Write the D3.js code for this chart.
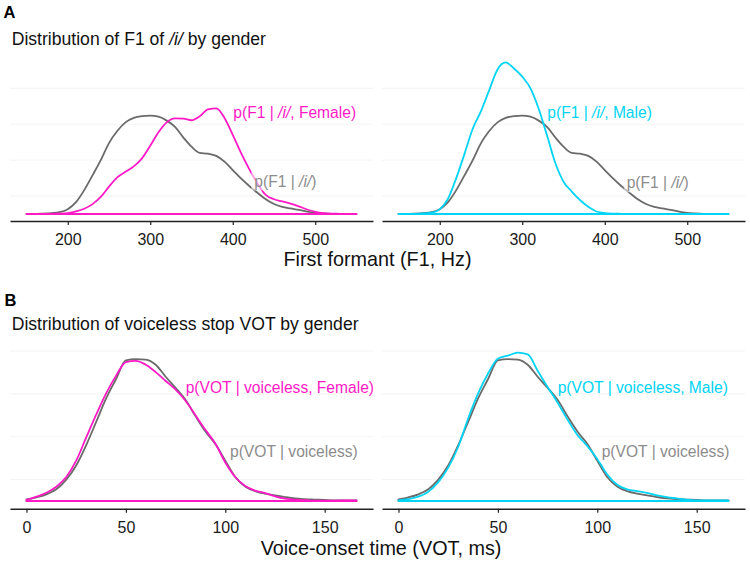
<!DOCTYPE html>
<html><head><meta charset="utf-8">
<script src="https://cdn.jsdelivr.net/npm/d3@7"></script>
<style>body{margin:0;background:#fff;} text{font-family:"Liberation Sans",Arial,sans-serif;}</style>
</head><body><svg id="chart" width="750" height="562"></svg>
<script>
// ---- Data (densities x1000) ----
const f1X = [150,160,170,180,190,200,210,220,230,240,250,260,270,280,290,300,310,320,330,340,350,360,370,380,390,400,410,420,430,440,450,460,470,480,490,500,510,520,530,540,550];
const f1Pooled = [0,0,0.02,0.05,0.10,0.27,0.66,1.33,2.15,3.0,3.95,4.62,5.1,5.35,5.45,5.48,5.42,5.2,4.85,4.27,3.75,3.4,3.36,3.24,2.92,2.45,1.98,1.56,1.18,0.82,0.56,0.40,0.31,0.23,0.13,0.06,0.03,0.01,0,0,0];
const f1Female = [0,0,0,0.01,0.02,0.05,0.14,0.29,0.55,0.95,1.52,2.04,2.35,2.65,3.1,3.8,4.55,5.1,5.32,5.31,5.22,5.44,5.83,5.88,5.35,4.41,3.4,2.5,1.7,1.06,0.82,0.7,0.58,0.43,0.25,0.12,0.05,0.02,0.01,0,0];
const f1Male = [0,0,0.01,0.03,0.07,0.26,0.85,2.0,3.35,4.75,5.73,6.9,8.05,8.44,8.1,7.65,7.0,5.85,4.38,2.85,1.8,1.25,0.78,0.4,0.14,0.05,0.02,0.01,0,0,0,0,0,0,0,0,0,0,0,0,0];

const votX = [0,5,10,15,20,25,30,35,40,45,50,55,60,65,70,75,80,85,90,95,100,105,110,115,120,125,130,135,140,145,150,155,160,165,166];
const votPooled = [0.19,0.43,0.78,1.36,2.5,4.15,6.5,9.2,11.94,14.2,16.4,16.55,16.5,15.9,14.5,13.2,11.8,9.9,8.1,6.65,4.7,2.8,1.7,1.15,0.85,0.65,0.46,0.3,0.22,0.17,0.12,0.08,0.08,0.08,0.08];
const votFemale = [0.12,0.5,0.97,1.67,2.8,4.7,7.4,10.05,12.52,14.6,16.2,16.35,15.9,15.04,14.0,13.0,11.7,10.0,8.3,6.7,4.5,2.8,1.75,1.22,0.92,0.55,0.28,0.15,0.1,0.05,0.04,0.05,0.07,0.08,0.08];
const votMale = [0.08,0.23,0.5,1.09,2.2,3.9,6.3,9.6,12.52,14.85,16.6,16.95,17.3,17.1,15.2,13.3,11.5,9.5,7.7,6.4,4.9,3.1,1.9,1.35,1.15,0.95,0.65,0.45,0.3,0.15,0.08,0.07,0.07,0.08,0.08];

const f1Ticks = [200,300,400,500];
const votTicks = [0,50,100,150];
const f1Grid = [1,3,5,7];
const votGrid = [2.5,7.5,12.5,17.5];

// ---- Drawing ----
const PINK = "#ff1ac6", CYAN = "#00d4f4", GREY = "#6a6a6a", GREYTXT = "#8c8c8c";
const svg = d3.select("#chart");
svg.append("rect").attr("width",750).attr("height",562).attr("fill","#fff");

function addLabel(g, x, y, parts, color, box) {
  const t = g.append("text").attr("x", x).attr("y", y).attr("font-size", 15.6).attr("fill", color);
  parts.forEach(p => t.append("tspan").attr("font-style", p[1] ? "italic" : null).text(p[0]));
  if (box) {
    const bb = t.node().getBBox();
    g.insert("rect", () => t.node())
      .attr("x", bb.x - 3).attr("y", bb.y - 1).attr("width", bb.width + 6).attr("height", bb.height + 2)
      .attr("fill", "#fff").attr("fill-opacity", 0.55);
  }
}

function panel(o) {
  const g = svg.append("g");
  const x = d3.scaleLinear().domain(o.xDomain).range(o.xRange);
  const y = d3.scaleLinear().domain(o.yDomain).range(o.yRange);
  g.selectAll(".grid").data(o.grid).enter().append("line")
    .attr("x1", o.xRange[0]).attr("x2", o.xRange[1])
    .attr("y1", d => y(d)).attr("y2", d => y(d))
    .attr("stroke", "#eeeeee").attr("stroke-width", 0.7);
  const area = (xs, ys) => {
    const pts = xs.map((v, i) => [v, ys[i]]);
    const line = d3.line().x(d => x(d[0])).y(d => y(d[1])).curve(d3.curveMonotoneX);
    return "M" + x(xs[0]) + "," + y(0) + "L" + line(pts).slice(1) + "L" + x(xs[xs.length-1]) + "," + y(0) + "Z";
  };
  g.append("path").attr("d", area(o.xs, o.pooled)).attr("fill", "none")
    .attr("stroke", GREY).attr("stroke-width", 1.8).attr("stroke-linejoin", "round");
  g.append("path").attr("d", area(o.xs, o.group)).attr("fill", "none")
    .attr("stroke", o.color).attr("stroke-width", 1.8).attr("stroke-linejoin", "round");
  const ax = g.append("g").attr("transform", `translate(0,${o.axisY})`)
    .call(d3.axisBottom(x).tickValues(o.ticks).tickSize(4).tickSizeOuter(0));
  ax.select(".domain").attr("stroke", "#222").attr("stroke-width", 1.4);
  ax.selectAll(".tick line").attr("stroke", "#222").attr("stroke-width", 1.2);
  ax.selectAll(".tick text").attr("dy", null).attr("y", 24.3)
    .attr("font-size", 16).attr("fill", "#1a1a1a").attr("font-family", '"Liberation Sans",Arial,sans-serif');
  addLabel(g, o.lab1[0], o.lab1[1], o.lab1[2], o.color, false);
  addLabel(g, o.lab2[0], o.lab2[1], o.lab2[2], GREYTXT, true);
}

const f1Y = { yDomain: [0, 7], yRange: [214, 88.3] };
const votY = { yDomain: [0, 17.5], yRange: [501, 351] };

panel(Object.assign({ xDomain: [130, 570], xRange: [10, 373], xs: f1X, pooled: f1Pooled, group: f1Female,
  color: PINK, ticks: f1Ticks, grid: f1Grid, axisY: 221,
  lab1: [233.3, 118, [["p(F1 | ",0],["/i/",1],[", Female)",0]]],
  lab2: [254.3, 186.5, [["p(F1 | ",0],["/i/",1],[")",0]]] }, f1Y));
panel(Object.assign({ xDomain: [130, 570], xRange: [382, 745], xs: f1X, pooled: f1Pooled, group: f1Male,
  color: CYAN, ticks: f1Ticks, grid: f1Grid, axisY: 221,
  lab1: [547.3, 118.3, [["p(F1 | ",0],["/i/",1],[", Male)",0]]],
  lab2: [626.7, 188.3, [["p(F1 | ",0],["/i/",1],[")",0]]] }, f1Y));
panel(Object.assign({ xDomain: [-8.3, 174.3], xRange: [10, 373], xs: votX, pooled: votPooled, group: votFemale,
  color: PINK, ticks: votTicks, grid: votGrid, axisY: 508.7,
  lab1: [185.7, 393.3, [["p(VOT | voiceless, Female)",0]]],
  lab2: [230, 457.3, [["p(VOT | voiceless)",0]]] }, votY));
panel(Object.assign({ xDomain: [-8.3, 174.3], xRange: [382, 745], xs: votX, pooled: votPooled, group: votMale,
  color: CYAN, ticks: votTicks, grid: votGrid, axisY: 508.7,
  lab1: [557.7, 393.3, [["p(VOT | voiceless, Male)",0]]],
  lab2: [601.7, 457.3, [["p(VOT | voiceless)",0]]] }, votY));

// Titles and tags
svg.append("text").attr("x", 3.5).attr("y", 17.5).attr("font-size", 16.5).attr("font-weight", "bold").attr("fill", "#000").text("A");
svg.append("text").attr("x", 4.5).attr("y", 305.8).attr("font-size", 16.5).attr("font-weight", "bold").attr("fill", "#000").text("B");
const tA = svg.append("text").attr("x", 11.7).attr("y", 45).attr("font-size", 17.6).attr("fill", "#111");
tA.append("tspan").text("Distribution of F1 of ");
tA.append("tspan").attr("font-style", "italic").text("/i/");
tA.append("tspan").text(" by gender");
svg.append("text").attr("x", 11.7).attr("y", 329.7).attr("font-size", 17.6).attr("fill", "#111")
  .text("Distribution of voiceless stop VOT by gender");
svg.append("text").attr("x", 377.5).attr("y", 266.3).attr("text-anchor", "middle").attr("font-size", 19.8).attr("fill", "#111")
  .text("First formant (F1, Hz)");
svg.append("text").attr("x", 381).attr("y", 554.5).attr("text-anchor", "middle").attr("font-size", 19.8).attr("fill", "#111")
  .text("Voice-onset time (VOT, ms)");
</script></body></html>
